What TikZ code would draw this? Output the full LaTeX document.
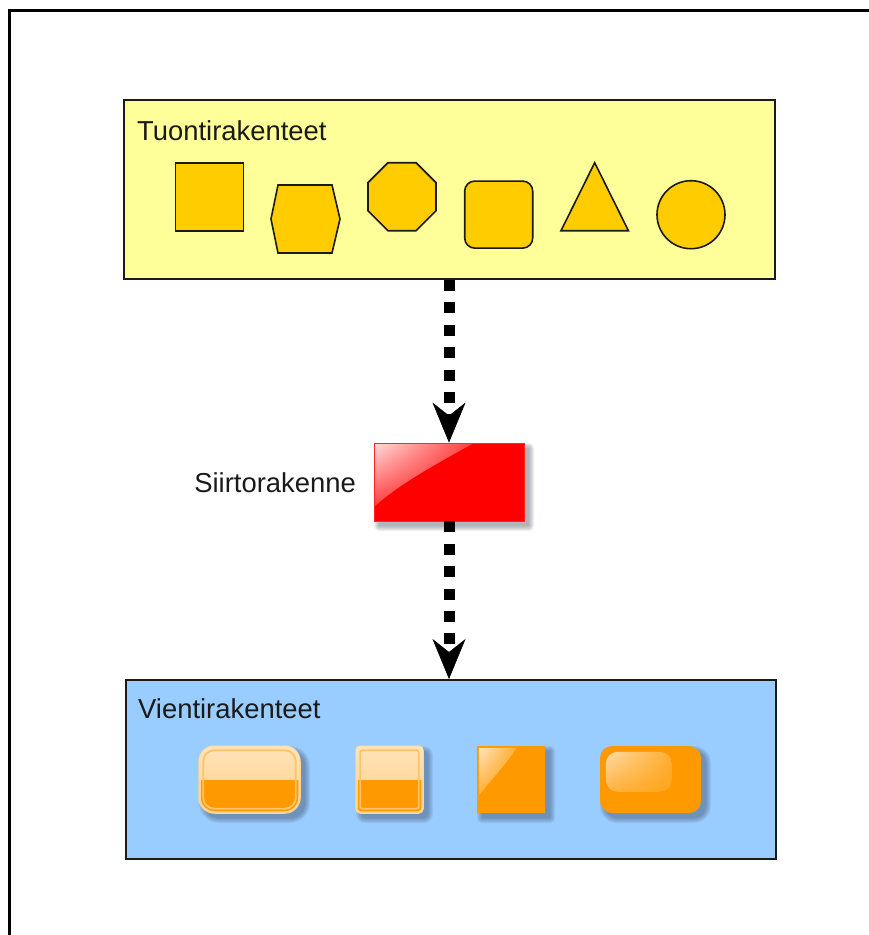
\documentclass[tikz,border=0pt]{standalone}
\usepackage{fontspec}
\setmainfont{Liberation Sans}
\usetikzlibrary{arrows.meta,shapes.geometric,shadings,calc}

\definecolor{impfill}{HTML}{FFFF99}
\definecolor{impshape}{HTML}{FFCC00}
\definecolor{expfill}{HTML}{99CCFF}
\definecolor{btnorange}{HTML}{FF9900}
\definecolor{btnpeach}{HTML}{FFD9A0}
\definecolor{btnpeachtop}{HTML}{FFE4BC}
\definecolor{btnglow}{HTML}{FFD595}
\definecolor{btnrim}{HTML}{FFC46A}
\definecolor{inkgray}{HTML}{1A1A1A}
\definecolor{dropink}{HTML}{202838}

\newcommand{\labelfont}{\fontsize{27.4}{31}\selectfont}

% soft drop shadow: stacked translucent layers offset to the lower right
% #1,#2 = upper-left corner, #3,#4 = lower-right corner, #5 = corner radius
\newcommand{\softdrop}[5]{%
  \foreach \k in {0,1,2,3,4,5}{%
    \fill[dropink, opacity=0.065, rounded corners={#5+\k}]
      ({#1+5-\k},{#2+5-\k}) rectangle ({#3+5+\k},{#4+5+\k});
  }%
}

\tikzset{
  frameline/.style={line width=3pt, draw=black},
  groupbox/.style={draw=inkgray, line width=2pt, inner sep=0pt},
  grouplabel/.style={font=\labelfont, text=inkgray, inner sep=0pt},
  importshape/.style={draw=inkgray, fill=impshape, line width=1.6pt, inner sep=0pt},
  flowarrow/.style={line width=11pt, dash pattern=on 11pt off 11.4pt,
    -{Stealth[length=40pt,width=33pt,inset=13pt,line width=0.5pt]}},
  glossbtn/.style={fill=btnorange, draw=btnglow, line width=2.5pt, inner sep=0pt},
  plainbtn/.style={fill=btnorange, draw=none, inner sep=0pt},
}

\begin{document}
\begin{tikzpicture}[x=1pt, y=-1pt]
  \useasboundingbox (0,0) rectangle (869,935);
  \fill[white] (0,0) rectangle (869,935);

  % outer frame: top and left edges only
  \draw[frameline] (9.5,935) -- (9.5,10.5) -- (869,10.5);

  % import group
  \node[groupbox, fill=impfill, minimum width=651pt, minimum height=179pt] (imp) at (449.5,189.5) {};
  \node[grouplabel, anchor=base west] (implabel) at (137,140) {Tuontirakenteet};

  \node[importshape, rectangle, minimum width=68pt, minimum height=68pt] (isquare) at (209.5,196.7) {};
  \draw[importshape] (278,185) -- (332,185) -- (340,219) -- (332,253) -- (278,253) -- (271,219) -- cycle;
  \node[importshape, regular polygon, regular polygon sides=8, minimum size=73.6pt] (ioct) at (402,196.7) {};
  \node[importshape, rectangle, rounded corners=10pt, minimum width=68pt, minimum height=67pt] (iround) at (498.7,214.6) {};
  \draw[importshape] (561,230.7) -- (594.7,162.7) -- (628.4,230.7) -- cycle;
  \node[importshape, circle, minimum size=68pt] (icircle) at (691,214.7) {};

  % transfer structure
  \softdrop{374}{443}{524}{521}{0}
  \node[fill=red, draw=red!85!white, line width=0.8pt, inner sep=0pt,
        minimum width=150pt, minimum height=78pt] (xfer) at (449,482) {};
  \shade[upper left=red!15!white, upper right=red!75!white, lower left=red!75!white, lower right=red]
    (375,444) -- (472,444) .. controls (440,462) and (402,482) .. (375,506) -- cycle;
  \node[grouplabel, anchor=base east] (xferlabel) at (356,492) {Siirtorakenne};

  % export group
  \node[groupbox, fill=expfill, minimum width=650pt, minimum height=179pt] (exp) at (451,769.5) {};
  \node[grouplabel, anchor=base west] (explabel) at (138,718) {Vientirakenteet};

  % button shadows
  \softdrop{199}{746}{300}{813}{15}
  \softdrop{356}{746}{423}{813}{4}
  \softdrop{477}{746}{545}{813}{0}
  \softdrop{600}{746}{701}{813}{12}

  % button 1: wide, two-tone with inner rim
  \node[glossbtn, rounded corners=15pt, minimum width=100pt, minimum height=66pt] (b1) at (249.5,779.5) {};
  \begin{scope}
    \clip[rounded corners=14pt] ($(b1.north west)+(1,1)$) rectangle ($(b1.south east)+(-1,-1)$);
    \shade[top color=btnpeachtop, bottom color=btnpeach] (b1.north west) rectangle (b1.east);
  \end{scope}
  \draw[btnrim, line width=1.8pt, rounded corners=11pt]
    ($(b1.north west)+(5,5)$) rectangle ($(b1.south east)+(-5,-5)$);

  % button 2: small, two-tone with inner rim
  \node[glossbtn, rounded corners=4pt, minimum width=66pt, minimum height=66pt] (b2) at (389.5,779.5) {};
  \begin{scope}
    \clip[rounded corners=3pt] ($(b2.north west)+(1,1)$) rectangle ($(b2.south east)+(-1,-1)$);
    \shade[top color=btnpeachtop, bottom color=btnpeach] (b2.north west) rectangle (b2.east);
  \end{scope}
  \draw[btnrim, line width=1.8pt, rounded corners=2pt]
    ($(b2.north west)+(5,5)$) rectangle ($(b2.south east)+(-5,-5)$);

  % button 3: square with corner gloss
  \node[plainbtn, minimum width=68pt, minimum height=67pt] (b3) at (511,779.5) {};
  \shade[upper left=btnorange!25!white, upper right=btnorange!80!white, lower left=btnorange!80!white, lower right=btnorange]
    ($(b3.north west)+(2,2)$) -- ($(b3.north west)+(40,2)$)
    .. controls ($(b3.north west)+(30,18)$) and ($(b3.north west)+(14,34)$) .. ($(b3.north west)+(2,50)$) -- cycle;

  % button 4: rounded with inner gloss pad
  \node[plainbtn, rounded corners=12pt, minimum width=101pt, minimum height=67pt] (b4) at (650.5,779.5) {};
  \shade[rounded corners=12pt, upper left=btnorange!35!white, upper right=btnorange!80!white,
         lower left=btnorange!75!white, lower right=btnorange!90!white]
    ($(b4.north west)+(6,6)$) rectangle ($(b4.north west)+(72,46)$);

  % flow connectors
  \draw[flowarrow] (imp.south -| xfer.north) -- (xfer.north);
  \draw[flowarrow] (xfer.south) -- (xfer.south |- exp.north);
\end{tikzpicture}
\end{document}
